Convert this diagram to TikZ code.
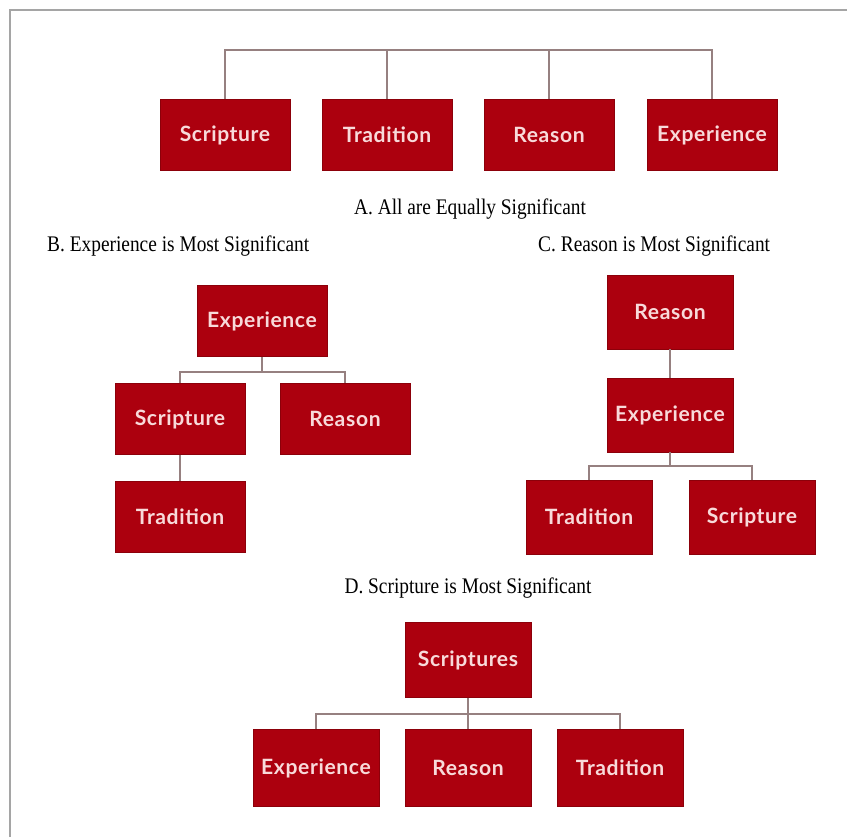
\documentclass[tikz,border=0pt]{standalone}
\usepackage{fontspec}
\setmainfont{Liberation Serif}
\newfontfamily\capfont{Liberation Serif}[FakeStretch=0.87]
\newfontfamily\boxfont{Lato}[LetterSpace=3]
\usepackage{xcolor}
\usetikzlibrary{positioning}

\definecolor{boxred}{RGB}{172,0,14}
\definecolor{boxedge}{RGB}{140,0,10}
\definecolor{boxtext}{RGB}{248,218,218}
\definecolor{linkgray}{RGB}{150,128,128}
\definecolor{framegray}{RGB}{165,165,165}

\begin{document}
\begin{tikzpicture}[x=0.03cm, y=-0.03cm,
  tbox/.style={draw=boxedge, line width=0.6pt, fill=boxred, text=boxtext,
    minimum width=3.9cm, minimum height=2.13cm, inner sep=0pt,
    font=\boxfont\bfseries\fontsize{18}{21}\selectfont},
  nbox/.style={tbox, minimum width=3.78cm, minimum height=2.22cm},
  link/.style={draw=linkgray, line width=1.1pt},
  caption/.style={font=\capfont\fontsize{19}{22}\selectfont, inner sep=0pt}]

  \useasboundingbox (0,0) rectangle (847,837);

  % Frame
  \draw[framegray, line width=1.6pt] (10,837) -- (10,10) -- (847,10);

  % A. All are equally significant
  \coordinate (aBus) at (0,50);
  \node[tbox] (aScr) at (225,135) {Scripture};
  \node[tbox] (aTra) at (387,135) {Tradition};
  \node[tbox] (aRea) at (549,135) {Reason};
  \node[tbox] (aExp) at (712,135) {Experience};
  \draw[link] (aScr.north) |- (aBus -| aExp.north) -- (aExp.north);
  \draw[link] (aTra.north) -- (aTra.north |- aBus);
  \draw[link] (aRea.north) -- (aRea.north |- aBus);
  \node[caption] (aCap) at (470,209) {A. All are Equally Significant};

  % B. Experience on top
  \node[caption, anchor=west] (bCap) at (47,246) {B. Experience is Most Significant};
  \coordinate (bBus) at (0,372);
  \node[tbox] (bExp) at (262,321) {Experience};
  \node[tbox] (bScr) at (180,419) {Scripture};
  \node[tbox] (bRea) at (345,419) {Reason};
  \node[tbox] (bTra) at (180,517) {Tradition};
  \draw[link] (bExp.south) -- (bExp.south |- bBus);
  \draw[link] (bScr.north) |- (bBus -| bRea.north) -- (bRea.north);
  \draw[link] (bScr.south) -- (bTra.north);

  % C. Reason on top
  \node[caption, anchor=west] (cCap) at (538,246) {C. Reason is Most Significant};
  \coordinate (cBus) at (0,466);
  \node[nbox] (cRea) at (670,312) {Reason};
  \node[nbox] (cExp) at (670,415) {Experience};
  \node[nbox] (cTra) at (589,517) {Tradition};
  \node[nbox] (cScr) at (752,517) {Scripture};
  \draw[link] (cRea.south) -- (cExp.north);
  \draw[link] (cExp.south) -- (cExp.south |- cBus);
  \draw[link] (cTra.north) |- (cBus -| cScr.north) -- (cScr.north);

  % D. Scripture on top
  \node[caption] (dCap) at (468,588) {D. Scripture is Most Significant};
  \coordinate (dBus) at (0,714);
  \node[nbox, minimum height=2.25cm] (dScr) at (468,660) {Scriptures};
  \node[nbox, minimum height=2.3cm] (dExp) at (316,768) {Experience};
  \node[nbox, minimum height=2.3cm] (dRea) at (468,768) {Reason};
  \node[nbox, minimum height=2.3cm] (dTra) at (620,768) {Tradition};
  \draw[link] (dScr.south) -- (dRea.north);
  \draw[link] (dExp.north) |- (dBus -| dTra.north) -- (dTra.north);

\end{tikzpicture}
\end{document}
